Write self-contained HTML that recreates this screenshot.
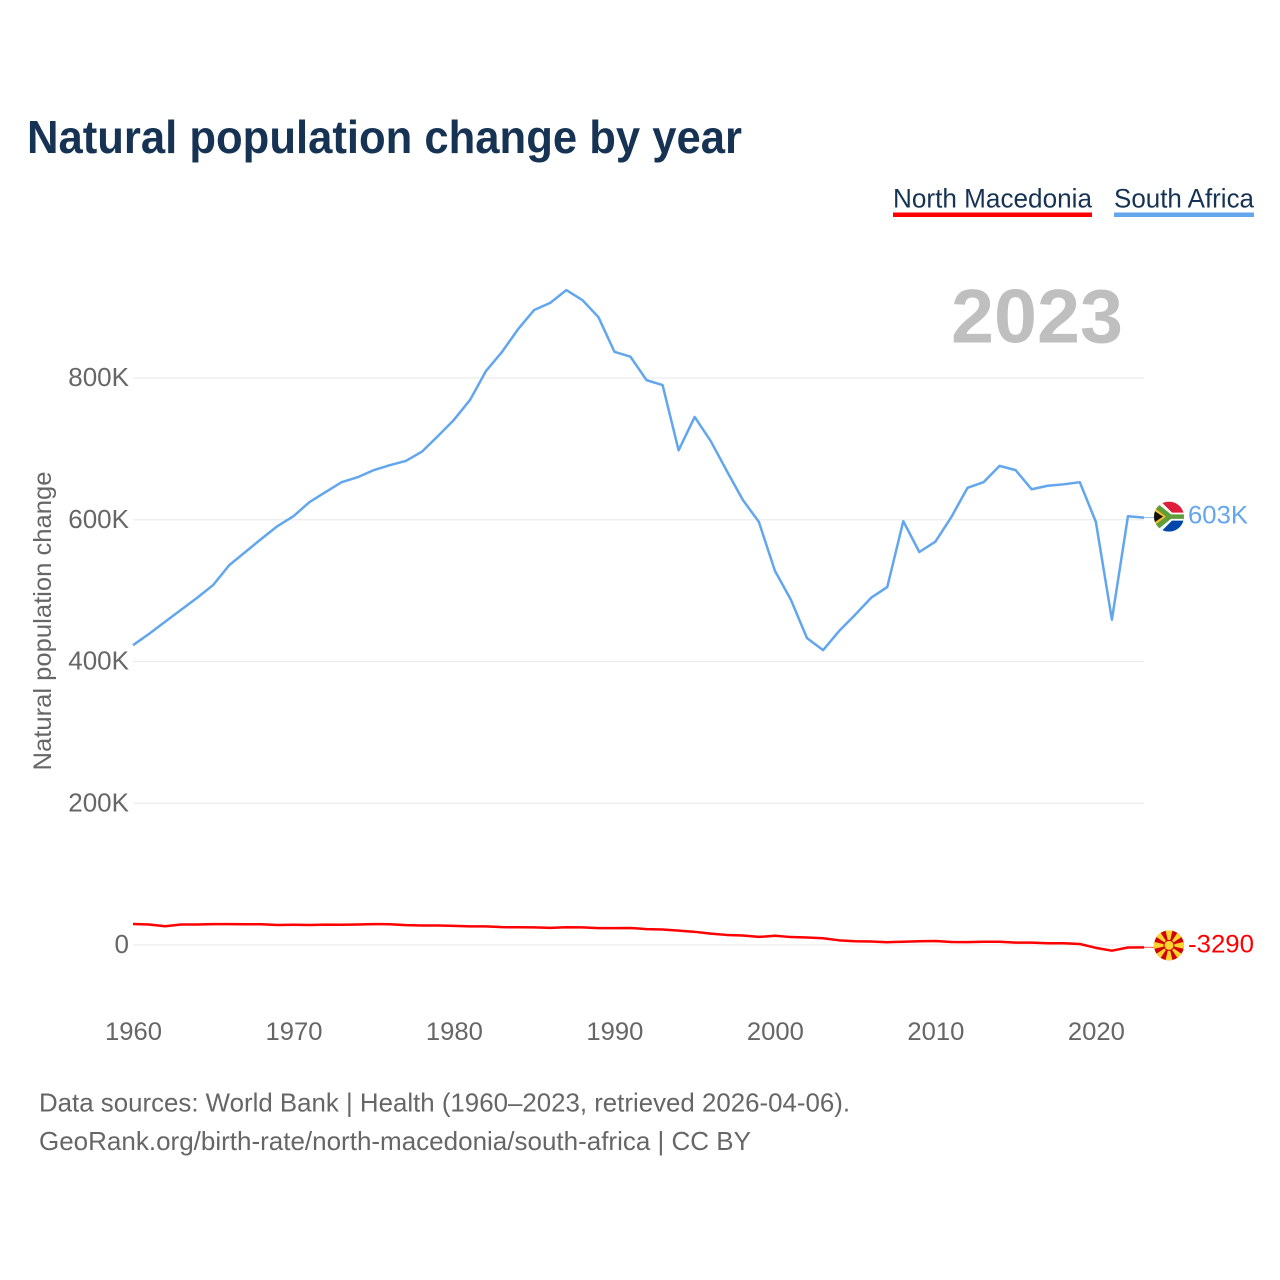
<!DOCTYPE html>
<html lang="en">
<head>
<meta charset="utf-8">
<title>Natural population change by year</title>
<style>
html,body{margin:0;padding:0;background:#fff;}
svg{display:block;}
text{font-family:"Liberation Sans",sans-serif;}
</style>
</head>
<body>
<svg id="chart" xmlns="http://www.w3.org/2000/svg" width="1280" height="1280" viewBox="0 0 1280 1280">
  <defs>
    <clipPath id="flag-clip-za"><circle cx="0" cy="0" r="15"/></clipPath>
    <clipPath id="flag-clip-mk"><circle cx="0" cy="0" r="15"/></clipPath>
  </defs>
  <rect width="1280" height="1280" fill="#fff"/>
  <text x="27" y="153" font-size="46" font-weight="700" fill="#173354" textLength="715" lengthAdjust="spacingAndGlyphs">Natural population change by year</text>

  <g>
    <text x="893" y="207.5" font-size="27" fill="#173354" textLength="199" lengthAdjust="spacingAndGlyphs">North Macedonia</text>
    <rect x="893" y="212.5" width="199" height="4.5" fill="#ff0000"/>
  </g>
  <g>
    <text x="1114" y="207.5" font-size="27" fill="#173354" textLength="140" lengthAdjust="spacingAndGlyphs">South Africa</text>
    <rect x="1114" y="212.5" width="140" height="4.5" fill="#62a6ee"/>
  </g>

  <text x="951" y="342.5" font-size="76" font-weight="700" fill="#bfbfbf" textLength="172" lengthAdjust="spacingAndGlyphs">2023</text>

  <g id="grid"></g>
  <g id="y-axis"></g>
  <g id="x-axis"></g>
  <text transform="translate(51,621) rotate(-90)" text-anchor="middle" font-size="25" fill="#666666" textLength="299" lengthAdjust="spacingAndGlyphs">Natural population change</text>
  <g id="series"></g>

  <g id="flag-za">
    <g clip-path="url(#flag-clip-za)">
      <rect x="-15" y="-15" width="30" height="15" fill="#de1f3c"/>
      <rect x="-15" y="0" width="30" height="15" fill="#0047ab"/>
      <polygon points="-15,-15 -8,-15 3,-4 15,-4 15,4 3,4 -8,15 -15,15" fill="#fff"/>
      <polygon points="-15,-12 -10,-12 2,-2.3 15,-2.3 15,2.3 2,2.3 -10,12 -15,12" fill="#5f9e3b"/>
      <polygon points="-15,-9 -3,0 -15,9" fill="#f6c02c"/>
      <polygon points="-15,-6 -6,0 -15,6" fill="#111"/>
    </g>
  </g>
  <g id="flag-mk">
    <g clip-path="url(#flag-clip-mk)">
      <rect x="-15" y="-15" width="30" height="30" fill="#d20000"/>
      <g fill="#ffd42e">
        <polygon points="-3.5,-15 3.5,-15 0,0"/>
        <polygon points="-3.5,15 3.5,15 0,0"/>
        <polygon points="-15,-3.5 -15,3.5 0,0"/>
        <polygon points="15,-3.5 15,3.5 0,0"/>
        <polygon points="-15,-10 -10,-15 0,0"/>
        <polygon points="15,-10 10,-15 0,0"/>
        <polygon points="-15,10 -10,15 0,0"/>
        <polygon points="15,10 10,15 0,0"/>
      </g>
      <circle r="5.5" fill="#d20000"/>
      <circle r="4.5" fill="#ffd42e"/>
    </g>
  </g>
  <text id="label-za" font-size="25" fill="#62a6ee"></text>
  <text id="label-mk" font-size="25" fill="#ff0000"></text>

  <text x="39" y="1111.5" font-size="26" fill="#666666" textLength="811" lengthAdjust="spacingAndGlyphs">Data sources: World Bank | Health (1960–2023, retrieved 2026-04-06).</text>
  <text x="39" y="1150" font-size="26" fill="#666666" textLength="712" lengthAdjust="spacingAndGlyphs">GeoRank.org/birth-rate/north-macedonia/south-africa | CC BY</text>
</svg>
<script>
// Values are in thousands of people per year.
const years = [1960,1961,1962,1963,1964,1965,1966,1967,1968,1969,1970,1971,1972,1973,1974,1975,1976,1977,1978,1979,1980,1981,1982,1983,1984,1985,1986,1987,1988,1989,1990,1991,1992,1993,1994,1995,1996,1997,1998,1999,2000,2001,2002,2003,2004,2005,2006,2007,2008,2009,2010,2011,2012,2013,2014,2015,2016,2017,2018,2019,2020,2021,2022,2023];
const southAfrica = [423,439,456,473,490,508,536,554.5,573,591,605,625,639,653,660,670,677,683,696,718,741,769,810,837,869,896,906,924,910,886,837,830,797,790,698,745,711,669,628,597,528,487,433,416,443,466,490,505,598,554.5,569,604,645,653,676,670,643,648,650,653,597,459,605,603];
const northMacedonia = [29.6,29,26.5,29,29,29.5,29.5,29.3,29.3,28.3,28.5,28.3,28.8,28.6,29,29.5,29.3,28,27.6,27.6,27,26.3,26.3,25.2,25,24.8,24.2,25,24.8,23.8,23.8,24,22.4,21.8,20.2,18.6,16,14.2,13.4,11.4,13,11.2,10.6,9.6,6.6,5.2,5,3.9,4.6,5.3,5.6,4.2,4,4.6,4.6,3.4,3.3,2.4,2.5,1.4,-4,-8,-3.5,-3.29];
const yTicks = [0,200,400,600,800];
const yTickLabels = ["0","200K","400K","600K","800K"];
const xTicks = [1960,1970,1980,1990,2000,2010,2020];
const xTickLabels = ["1960","1970","1980","1990","2000","2010","2020"];
const endLabelZa = "603K";
const endLabelMk = "-3290";

const NS = "http://www.w3.org/2000/svg";
function xScale(year){ return 133 + (year - 1960) * (1144 - 133) / 63; }
function yScale(v){ return 945 - v * 0.70875; }
function make(tag, attrs, parent){
  const el = document.createElementNS(NS, tag);
  for (const k in attrs) el.setAttribute(k, attrs[k]);
  parent.appendChild(el);
  return el;
}
const grid = document.getElementById("grid");
const yAxis = document.getElementById("y-axis");
const xAxis = document.getElementById("x-axis");
const series = document.getElementById("series");

yTicks.forEach(function(t, i){
  const line = make("line", {x1:133, x2:1144, y1:yScale(t), y2:yScale(t), stroke:"#ececec", "stroke-width":1.2}, grid);
  
  
  const label = make("text", {x:129, y:yScale(t) + 8, "text-anchor":"end", "font-size":26, fill:"#666666"}, yAxis);
  
  
  label.textContent = yTickLabels[i];
});
xTicks.forEach(function(t, i){
  const label = make("text", {x:xScale(t) + 0.5, y:1040, "text-anchor":"middle", "font-size":25, fill:"#666666", textLength:57, lengthAdjust:"spacingAndGlyphs"}, xAxis);
  
  
  label.textContent = xTickLabels[i];
});
function pathFor(values){
  return values.map(function(v, i){
    return (i ? "L" : "M") + xScale(years[i]).toFixed(2) + " " + yScale(v).toFixed(2);
  }).join(" ");
}
const lineMk = make("path", {d:pathFor(northMacedonia), fill:"none", stroke:"#ff0000", "stroke-width":2.5, "stroke-linejoin":"round"}, series);


const lineZa = make("path", {d:pathFor(southAfrica), fill:"none", stroke:"#62a6ee", "stroke-width":2.5, "stroke-linejoin":"round"}, series);



function placeEnd(values, flagId, labelId, text, color, width, flagOffset, labelOffset){
  const last = values[values.length - 1];
  const yEnd = yScale(last);
  const lastYear = years[years.length - 1];
  const conn = make("line", {x1:xScale(lastYear), x2:1154, y1:yEnd, y2:yEnd, stroke:color, "stroke-width":1, opacity:0.7}, series);
  
  
  document.getElementById(flagId).setAttribute("transform", "translate(1169," + (yEnd + flagOffset) + ")");
  const lab = document.getElementById(labelId);
  lab.setAttribute("x", 1188);
  lab.setAttribute("y", yEnd + labelOffset);
  lab.setAttribute("textLength", width);
  lab.setAttribute("lengthAdjust", "spacingAndGlyphs");
  lab.textContent = text;
}
placeEnd(southAfrica, "flag-za", "label-za", endLabelZa, "#62a6ee", 60, -1, 6);
placeEnd(northMacedonia, "flag-mk", "label-mk", endLabelMk, "#ff0000", 66, -2, 5);
</script>
</body>
</html>
